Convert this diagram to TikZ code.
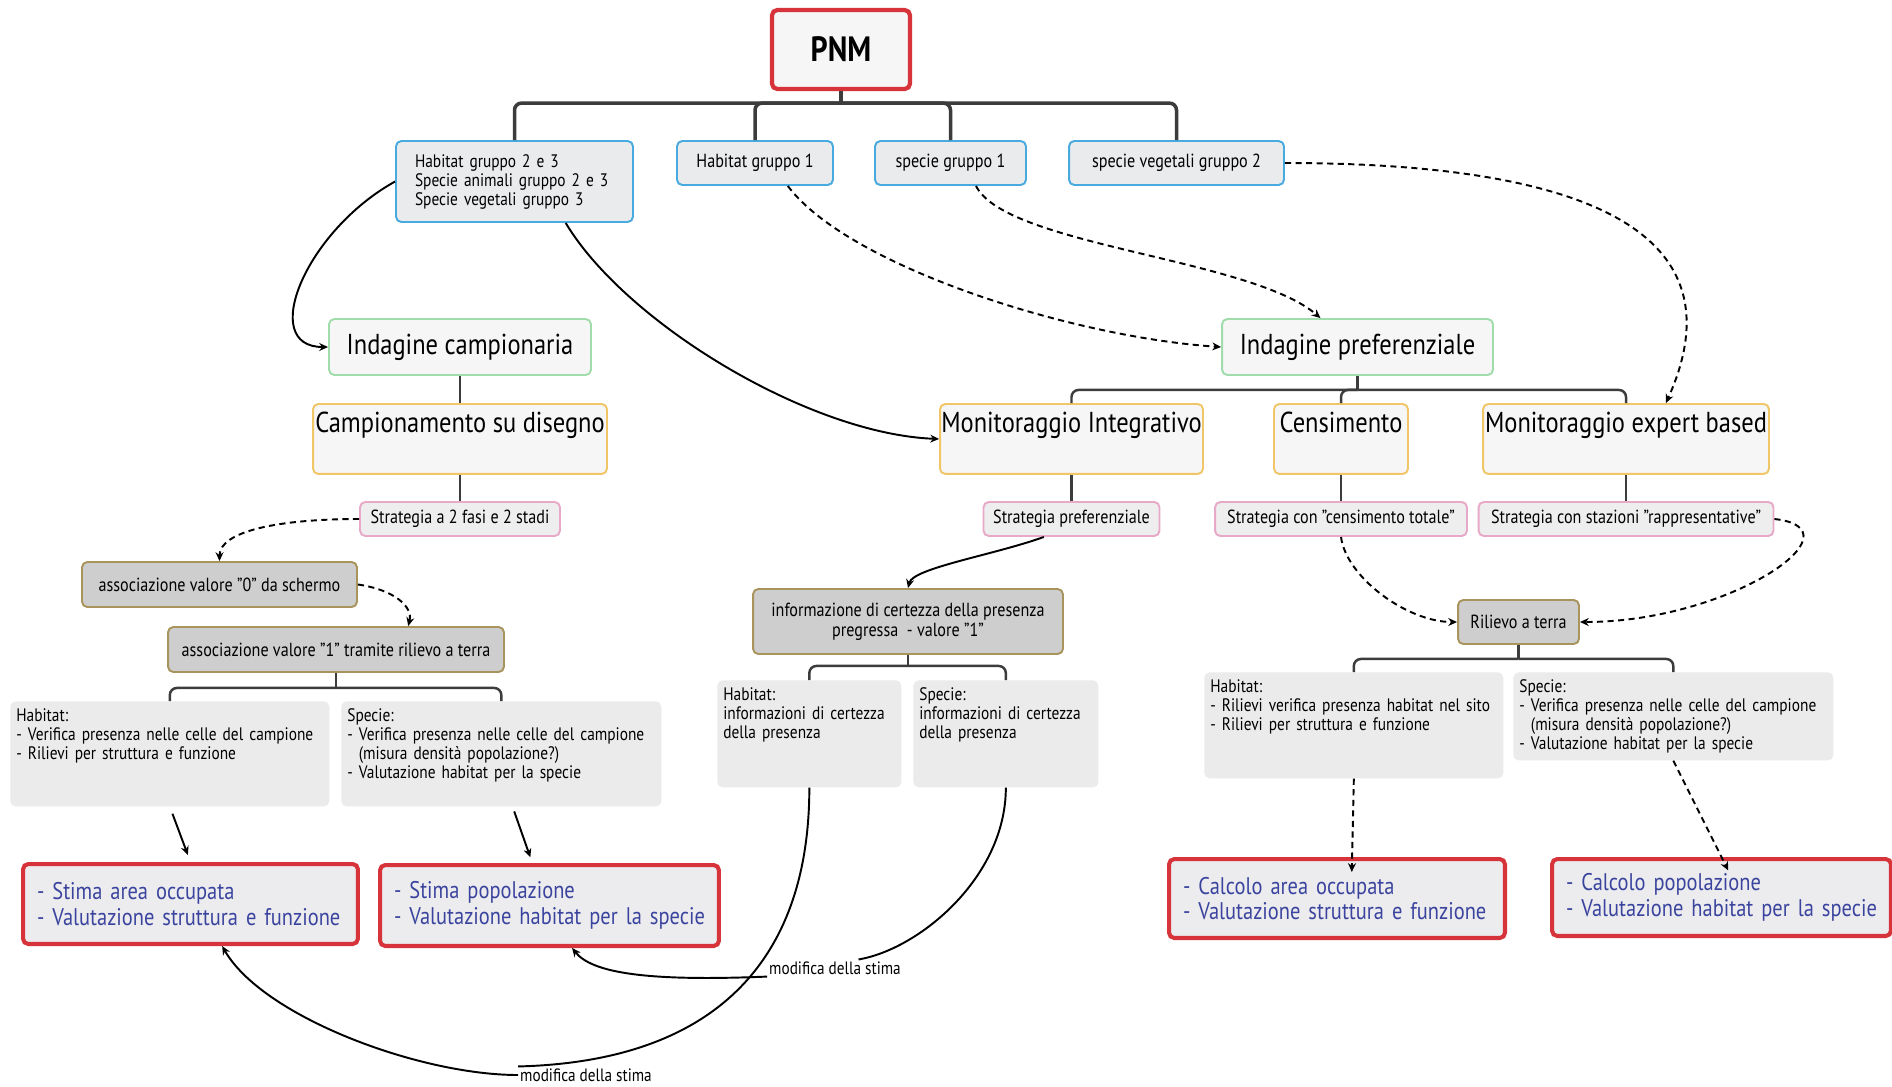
\documentclass[tikz,border=0pt]{standalone}
\usepackage{fontspec}
\setmainfont[FakeStretch=0.85]{PT Sans}
\usepackage{tikz}
\usetikzlibrary{arrows.meta}

\definecolor{treeline}{RGB}{60,60,60}
\definecolor{headred}{RGB}{214,52,58}
\definecolor{grpblue}{RGB}{72,170,222}
\definecolor{grpfill}{RGB}{233,235,237}
\definecolor{svgreen}{RGB}{160,220,172}
\definecolor{mtorange}{RGB}{240,198,104}
\definecolor{boxwhite}{RGB}{246,246,246}
\definecolor{stpink}{RGB}{232,168,200}
\definecolor{stfill}{RGB}{238,238,238}
\definecolor{acbrown}{RGB}{168,148,92}
\definecolor{acfill}{RGB}{206,206,206}
\definecolor{notefill}{RGB}{235,235,235}
\definecolor{resred}{RGB}{214,52,58}
\definecolor{resfill}{RGB}{236,236,238}
\definecolor{restext}{RGB}{58,68,158}

\newcommand\fsHead{\fontsize{20}{24}\selectfont\bfseries}
\newcommand\fsBig{\fontsize{16.4}{19}\selectfont}
\newcommand\fsMid{\fontsize{13.7}{14.6}\selectfont}
\newcommand\fsSmall{\fontsize{10.8}{11.2}\selectfont}
\newcommand\fsNote{\fontsize{10.3}{10.8}\selectfont}
\newcommand\fsTiny{\fontsize{10.2}{11}\selectfont}

\begin{document}
\begin{tikzpicture}[x=0.02cm, y=-0.02cm,
  box/.style={rounded corners=3pt, line width=1.1pt, inner sep=0pt},
  head/.style={box, draw=headred, line width=2.4pt, fill=boxwhite, font=\fsHead, minimum width=2.76cm, minimum height=1.58cm},
  group/.style={box, draw=grpblue, fill=grpfill, font=\fsSmall, minimum height=0.88cm},
  survey/.style={box, draw=svgreen, fill=boxwhite, font=\fsBig, minimum height=1.12cm},
  method/.style={box, draw=mtorange, fill=boxwhite, font=\fsBig, anchor=north, inner ysep=0.12cm, text height=0.46cm, text depth=0.70cm},
  strat/.style={box, draw=stpink, fill=stfill, font=\fsSmall, minimum height=0.68cm},
  action/.style={box, draw=acbrown, fill=acfill, font=\fsSmall, minimum height=0.9cm},
  note/.style={fill=notefill, rounded corners=3pt, anchor=north west, align=left, font=\fsNote, inner xsep=0.12cm, inner ysep=0.14cm, text height=0.26cm},
  result/.style={box, draw=resred, line width=2.3pt, fill=resfill, text=restext, font=\fsMid, align=left, inner xsep=0.28cm},
  tree/.style={draw=treeline, line width=1.4pt, rounded corners=4pt},
  link/.style={draw=black, line width=1.1pt},
  rel/.style={link, -{Stealth[length=5pt,width=4.5pt]}},
  reld/.style={rel, dash pattern=on 3.5pt off 2.5pt},
  relnote/.style={font=\fsTiny, inner sep=1pt}
]
\path[fill=white, use as bounding box] (0,0) rectangle (1892,1086);

\node[head] (pnm) at (841,49.5) {PNM};

\node[group, font=\fsNote, minimum width=4.74cm, minimum height=1.62cm, align=left, text width=3.98cm, inner xsep=0.38cm] (hg23) at (514.5,181.5) {Habitat gruppo 2 e 3\\Specie animali gruppo 2 e 3\\Specie vegetali gruppo 3};
\node[group, minimum width=3.12cm] (hg1) at (755,163) {Habitat gruppo 1};
\node[group, minimum width=3.02cm] (sg1) at (950.5,163) {specie gruppo 1};
\node[group, minimum width=4.3cm] (svg2) at (1176.5,163) {specie vegetali gruppo 2};

\node[survey, minimum width=5.24cm] (ic) at (460,347) {Indagine campionaria};
\node[survey, minimum width=5.42cm] (ip) at (1357.5,347) {Indagine preferenziale};

\node[method, minimum width=5.88cm] (csd) at (460,403) {Campionamento su disegno};
\node[method, minimum width=5.26cm] (mi) at (1071.5,403) {Monitoraggio Integrativo};
\node[method, minimum width=2.68cm] (cens) at (1341,403) {Censimento};
\node[method, minimum width=5.72cm] (meb) at (1626,403) {Monitoraggio expert based};

\node[strat, minimum width=4cm] (s2f) at (460,519) {Strategia a 2 fasi e 2 stadi};
\node[strat, minimum width=3.52cm] (sp) at (1071.5,519) {Strategia preferenziale};
\node[strat, minimum width=5.04cm] (sct) at (1341,519) {Strategia con "censimento totale"};
\node[strat, minimum width=5.9cm] (ssr) at (1626,519) {Strategia con stazioni "rappresentative"};

\node[action, minimum width=5.5cm] (a0) at (219.5,584.5) {associazione valore "0" da schermo};
\node[action, minimum width=6.72cm] (a1) at (336,649.5) {associazione valore "1" tramite rilievo a terra};
\node[action, minimum width=6.2cm, minimum height=1.3cm, align=center] (info) at (908,621.5) {informazione di certezza della presenza\\pregressa \ - valore "1"};
\node[action, minimum width=2.42cm, minimum height=0.88cm] (rat) at (1518.5,622) {Rilievo a terra};

\node[note, text width=6.14cm, text depth=1.56cm] (nh1) at (10,701) {Habitat:\\- Verifica presenza nelle celle del campione\\- Rilievi per struttura e funzione};
\node[note, text width=6.16cm, text depth=1.56cm] (ns1) at (341,701) {Specie:\\- Verifica presenza nelle celle del campione\\\phantom{- }(misura densità popolazione?)\\- Valutazione habitat per la specie};
\node[note, text width=3.44cm, text depth=1.6cm] (nh2) at (717,680) {Habitat:\\informazioni di certezza\\della presenza};
\node[note, text width=3.46cm, text depth=1.6cm] (ns2) at (913,680) {Specie:\\informazioni di certezza\\della presenza};
\node[note, text width=5.74cm, text depth=1.58cm] (nh3) at (1204,672) {Habitat:\\- Rilievi verifica presenza habitat nel sito\\- Rilievi per struttura e funzione};
\node[note, text width=6.16cm, text depth=1.22cm] (ns3) at (1513,672) {Specie:\\- Verifica presenza nelle celle del campione\\\phantom{- }(misura densità popolazione?)\\- Valutazione habitat per la specie};

\node[result, text width=6.14cm, minimum height=1.6cm] (sa) at (190.5,904) {- Stima area occupata\\- Valutazione struttura e funzione};
\node[result, text width=6.22cm, minimum height=1.62cm] (spop) at (549.5,905.5) {- Stima popolazione\\- Valutazione habitat per la specie};
\node[result, text width=6.16cm, minimum height=1.58cm] (ca) at (1337,898.5) {- Calcolo area occupata\\- Valutazione struttura e funzione};
\node[result, text width=6.22cm, minimum height=1.54cm] (cpop) at (1721.5,897.5) {- Calcolo popolazione\\- Valutazione habitat per la specie};

\node[relnote] (mod1) at (586,1075) {modifica della stima};
\node[relnote] (mod2) at (835,968) {modifica della stima};

\draw[tree, line width=2pt] (pnm.south) -- ++(0,12) coordinate (pnmbus);
\foreach \c in {hg23,hg1,sg1,svg2} \draw[tree, line width=2pt] (pnmbus) -| (\c.north);
\draw[tree] (ic.south) -- (csd.north);
\draw[tree] (csd.south) -- (s2f.north);
\draw[tree] (ip.south) -- ++(0,14) coordinate (ipbus);
\foreach \c in {mi,cens,meb} \draw[tree] (ipbus) -| (\c.north);
\foreach \a/\b in {mi/sp,cens/sct,meb/ssr} \draw[tree] (\a.south) -- (\b.north);
\draw[tree] (a1.south) -- ++(0,15) coordinate (a1bus);
\foreach \c in {nh1,ns1} \draw[tree] (a1bus) -| (\c.north);
\draw[tree] (info.south) -- ++(0,11) coordinate (infobus);
\foreach \c in {nh2,ns2} \draw[tree] (infobus) -| (\c.north);
\draw[tree] (rat.south) -- ++(0,14) coordinate (ratbus);
\foreach \c in {nh3,ns3} \draw[tree] (ratbus) -| (\c.north);

\draw[rel] (hg23.west) .. controls +(-90,50) and +(-70,0) .. (ic.west);
\draw[rel] (hg23.-39) .. controls +(60,100) and +(-130,-5) .. (mi.west);
\draw[reld] (hg1.-35) .. controls +(60,80) and +(-150,-10) .. (ip.west);
\draw[reld] (sg1.-42) .. controls +(30,60) and +(-70,-60) .. (ip.142);
\draw[reld] (svg2.east) .. controls +(230,0) and +(90,-200) .. (meb.42);

\draw[reld] (s2f.west) .. controls +(-80,0) and +(0,-30) .. (a0.north);
\draw[reld] (a0.east) .. controls +(35,5) and +(5,-20) .. (a1.18);
\draw[rel] (sp.-147) .. controls +(-50,18) and +(5,-20) .. (info.north);
\draw[reld] (sct.south) .. controls +(5,40) and +(-50,0) .. (rat.west);
\draw[reld] (ssr.east) .. controls +(90,10) and +(150,0) .. (rat.east);

\draw[rel, shorten <=0.15cm, shorten >=0.15cm] (nh1.south) -- (sa.north);
\draw[rel, shorten <=0.1cm, shorten >=0.12cm] (ns1.-78) -- (spop.112);
\draw[reld, shorten >=-0.3cm] (nh3.south) -- (ca.70);
\draw[reld, shorten >=-0.3cm] (ns3.south) -- (cpop.north);

\draw[link] (nh2.south) .. controls +(0,170) and +(200,-5) .. (mod1.north west);
\draw[rel] (mod1.west) .. controls +(-100,0) and +(40,70) .. (sa.-53);
\draw[link] (ns2.south) .. controls +(0,90) and +(60,-10) .. (mod2.20);
\draw[rel] (mod2.south west) .. controls +(-120,5) and +(20,25) .. (spop.-62);

\end{tikzpicture}
\end{document}
